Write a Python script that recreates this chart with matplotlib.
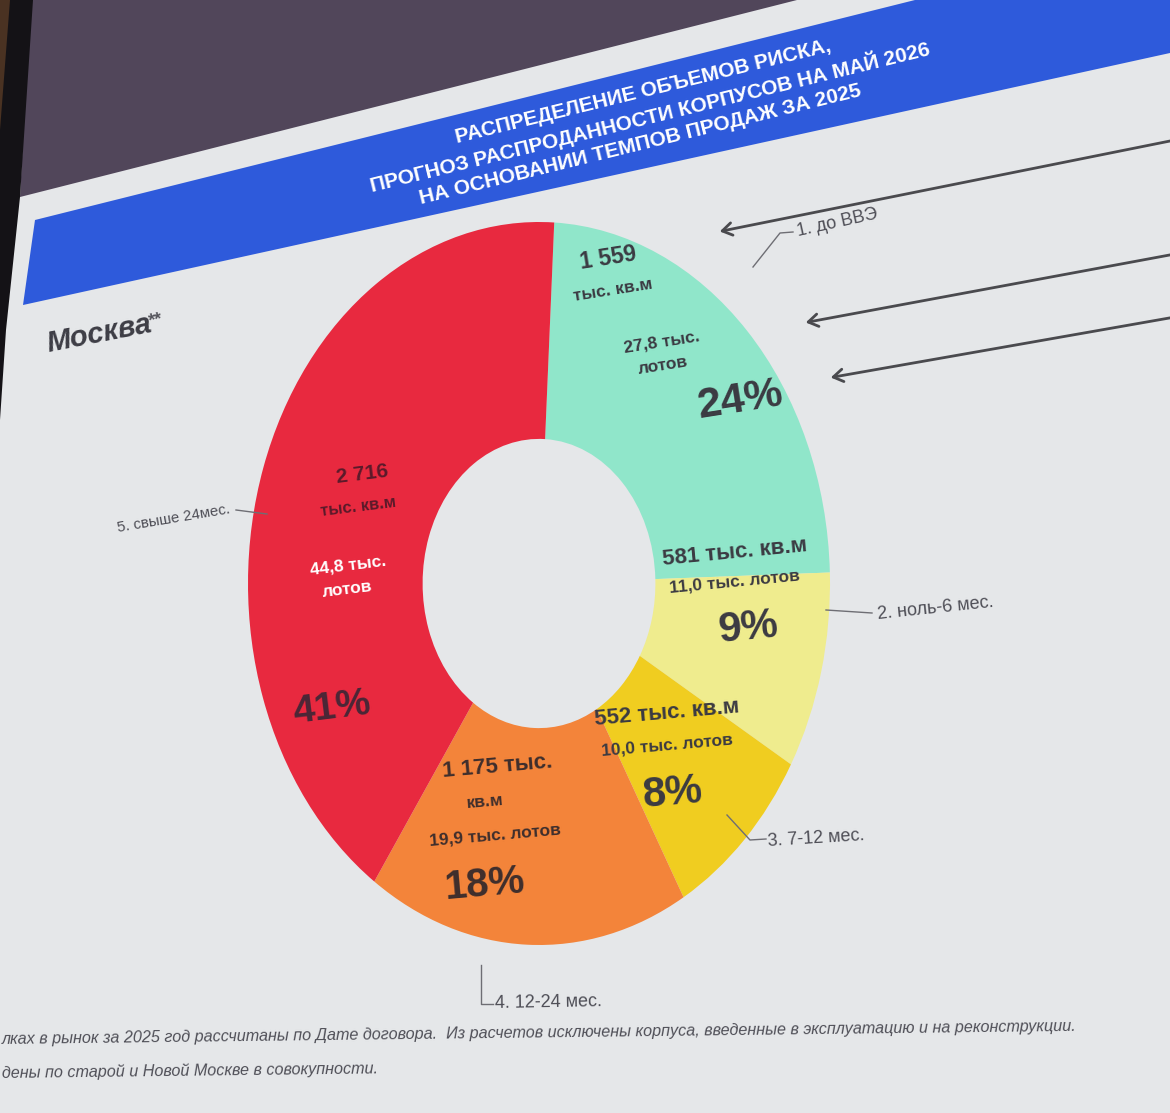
import matplotlib
matplotlib.use("Agg")
import matplotlib.pyplot as plt
from matplotlib.patches import Polygon
from matplotlib import font_manager

# ---------------- data ----------------
categories = ['1. до ВВЭ', '2. ноль-6 мес.', '3. 7-12 мес.', '4. 12-24 мес.', '5. свыше 24мес.']
area_k_sqm = [1559, 581, 552, 1175, 2716]
lots_k = [27.8, 11.0, 10.0, 19.9, 44.8]
shares_pct = [24, 9, 8, 18, 41]
colors = ['#90e6ca', '#efec8e', '#f0cd20', '#f3843a', '#e8293f']

title_lines = ['РАСПРЕДЕЛЕНИЕ ОБЪЕМОВ РИСКА,',
               'ПРОГНОЗ РАСПРОДАННОСТИ КОРПУСОВ НА МАЙ 2026',
               'НА ОСНОВАНИИ ТЕМПОВ ПРОДАЖ ЗА 2025']
region_label = 'Москва'
footnotes = ['лках в рынок за 2025 год рассчитаны по Дате договора.  Из расчетов исключены корпуса, введенные в эксплуатацию и на реконструкции.',
             'дены по старой и Новой Москве в совокупности.']

# ---------------- helpers ----------------
def fmt_int(v):
    return f"{v:,}".replace(',', ' ')

def fmt_dec(v):
    return f"{v:.1f}".replace('.', ',')

names = {f.name for f in font_manager.fontManager.ttflist}
FONT = 'Liberation Sans' if 'Liberation Sans' in names else 'DejaVu Sans'
plt.rcParams['font.family'] = [FONT, 'DejaVu Sans']

W, H = 1170, 1113
fig = plt.figure(figsize=(W / 100, H / 100), dpi=100)

# ---------------- background (pixel coords) ----------------
bg = fig.add_axes([0, 0, 1, 1], zorder=0)
bg.set_xlim(0, W)
bg.set_ylim(H, 0)
bg.axis('off')
bg.add_patch(Polygon([(0, 0), (W, 0), (W, H), (0, H)], closed=True, fc='#e5e7e9', ec='none'))
bg.add_patch(Polygon([(30, 0), (797, 0), (20, 197)], closed=True, fc='#51465a', ec='none'))
bg.add_patch(Polygon([(0, 0), (33, 0), (20, 197), (6, 330), (0, 420)], closed=True, fc='#141216', ec='none'))
bg.add_patch(Polygon([(0, 0), (10, 0), (0, 130)], closed=True, fc='#4a3222', ec='none'))
bg.add_patch(Polygon([(35, 220), (915, 0), (W, 0), (W, 53), (23, 305)], closed=True, fc='#2e5adb', ec='none'))

# ---------------- donut ----------------
ax = fig.add_axes([248 / W, (H - 945) / H, 582 / W, 723 / H], zorder=1)
ax.pie(area_k_sqm, colors=colors, startangle=87, counterclock=False,
       radius=1.0, wedgeprops=dict(width=0.60, linewidth=0))
ax.set_aspect('auto')
ax.set_xlim(-1.0, 1.0)
ax.set_ylim(-1.0, 1.0)
ax.axis('off')

# ---------------- overlay (texts, lines) ----------------
ov = fig.add_axes([0, 0, 1, 1], zorder=2)
ov.set_xlim(0, W)
ov.set_ylim(H, 0)
ov.axis('off')
ov.patch.set_alpha(0)

# title
title_pos = [(644, 97), (652, 123), (642, 150)]
for txt, (x, y) in zip(title_lines, title_pos):
    ov.text(x, y, txt, ha='center', va='baseline', rotation=13.8, rotation_mode='anchor',
            color='white', fontsize=15, fontweight='bold')

# region label
ov.text(48, 352, region_label, ha='left', va='baseline', rotation=11, rotation_mode='anchor',
        color='#3d3d45', fontsize=21, fontweight='bold', style='italic')
ov.text(148, 326, '**', ha='left', va='baseline', rotation=11, rotation_mode='anchor',
        color='#55555c', fontsize=13, fontweight='bold', style='italic')

# arrows from right
arrow_tips = [(717, 232), (803, 323), (828, 378)]
arrow_tails = [(1175, 140), (1175, 254), (1175, 317)]
for tip, tail in zip(arrow_tips, arrow_tails):
    ov.annotate('', xy=tip, xytext=tail,
                arrowprops=dict(arrowstyle='->,head_length=0.7,head_width=0.45',
                                color='#4a4a4e', lw=2.0))

# category callouts
cat_pos = [(798, 236, 12.5), (878, 619, 6.0), (768, 846, 3.5), (495, 1008, 1.0), (118, 532, 9.5)]
cat_size = [13, 13, 13, 13, 10.8]
leaders = [[(753, 267), (780, 233), (793, 232)],
           [(826, 610), (872, 613)],
           [(727, 815), (750, 840), (766, 839)],
           [(481, 965), (481, 1004), (493, 1004)],
           [(236, 510), (267, 514)]]
for cat, (x, y, r), s, pts in zip(categories, cat_pos, cat_size, leaders):
    ov.text(x, y, cat, ha='left', va='baseline', rotation=r, rotation_mode='anchor',
            color='#4e4e56', fontsize=s)
    ov.plot([p[0] for p in pts], [p[1] for p in pts], color='#6e6e74', lw=1.0)

# wedge labels
teal = [fmt_int(area_k_sqm[0]), 'тыс. кв.м', f'{fmt_dec(lots_k[0])} тыс.', 'лотов', f'{shares_pct[0]}%']
yel = [f'{fmt_int(area_k_sqm[1])} тыс. кв.м', f'{fmt_dec(lots_k[1])} тыс. лотов', f'{shares_pct[1]}%']
gold = [f'{fmt_int(area_k_sqm[2])} тыс. кв.м', f'{fmt_dec(lots_k[2])} тыс. лотов', f'{shares_pct[2]}%']
ora = [f'{fmt_int(area_k_sqm[3])} тыс.', 'кв.м', f'{fmt_dec(lots_k[3])} тыс. лотов', f'{shares_pct[3]}%']
red = [fmt_int(area_k_sqm[4]), 'тыс. кв.м', f'{fmt_dec(lots_k[4])} тыс.', 'лотов', f'{shares_pct[4]}%']

DK = '#3b3a42'
label_specs = [
    (teal, [(608, 258), (613, 290), (662, 342), (663, 366), (740, 400)],
     [16.5, 12.5, 12.5, 12.5, 31], [DK] * 5, 9),
    (yel, [(735, 553), (735, 582), (748, 628)], [16, 12.5, 30], [DK] * 3, 5.5),
    (gold, [(667, 713), (667, 745), (673, 793)], [16, 12.5, 30], [DK] * 3, 5),
    (ora, [(497, 767), (485, 802), (495, 835), (485, 885)], [16, 12.5, 12.5, 29],
     ['#3e2e2c'] * 4, 5),
    (red, [(362, 474), (358, 507), (348, 565), (347, 589), (332, 708)], [15, 12, 12.5, 12.5, 28],
     ['#5a1a2a', '#5a1a2a', 'white', 'white', '#4a2636'], 7),
]
for lines, poss, sizes, cols, rot in label_specs:
    for t, (x, y), s, c in zip(lines, poss, sizes, cols):
        ov.text(x, y, t, ha='center', va='center', rotation=rot, rotation_mode='anchor',
                fontsize=s, fontweight='bold', color=c)

# footnotes
ov.text(2, 1044, footnotes[0], ha='left', va='baseline', rotation=0.7, rotation_mode='anchor',
        fontsize=11.6, style='italic', color='#505058')
ov.text(2, 1078, footnotes[1], ha='left', va='baseline', rotation=0.7, rotation_mode='anchor',
        fontsize=11.6, style='italic', color='#505058')

fig.savefig('out.png', dpi=100)
